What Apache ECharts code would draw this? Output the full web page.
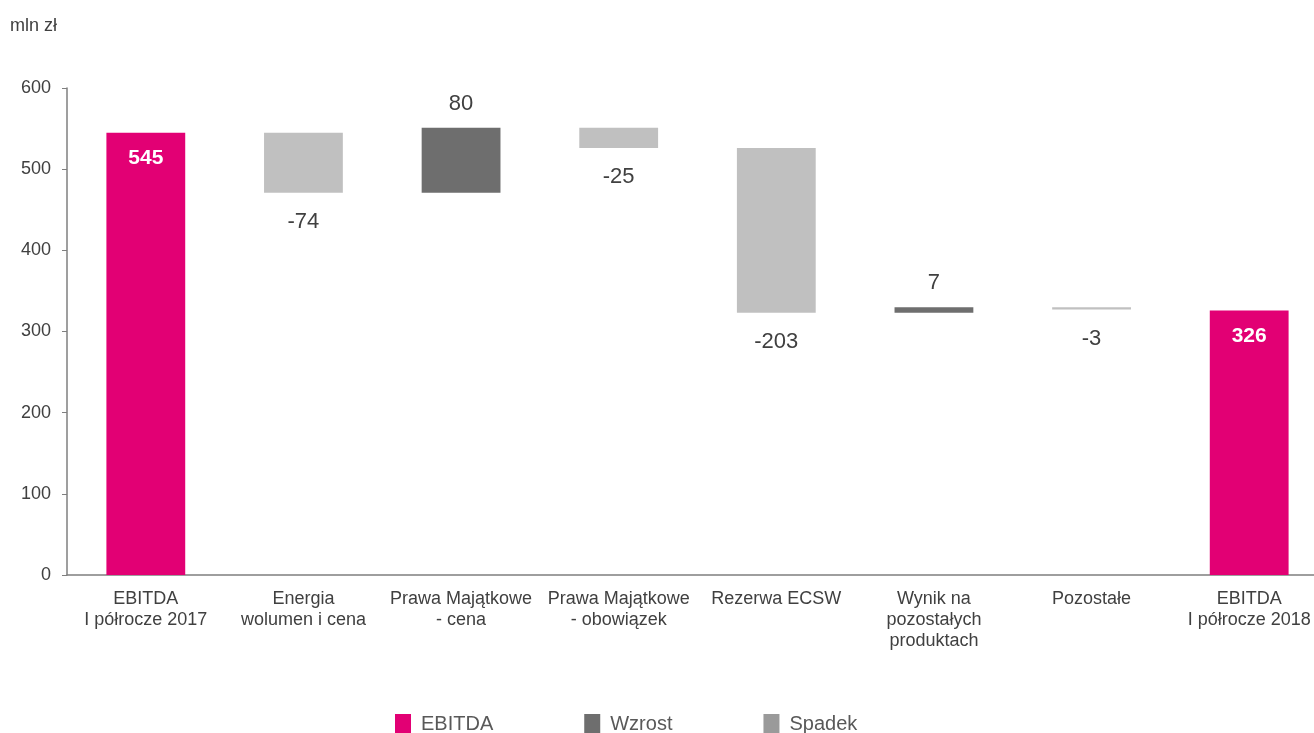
<!DOCTYPE html>
<html>
<head>
<meta charset="utf-8">
<script src="https://cdn.jsdelivr.net/npm/echarts@6/dist/echarts.min.js"></script>
<style>
  html, body { margin: 0; padding: 0; background: #fff; }
  #chart { width: 1314px; height: 733px; }
</style>
</head>
<body>
<div id="chart"></div>
<script>
// EBITDA bridge, H1 2017 -> H1 2018 (mln zł)
const categories = [
  'EBITDA\nI półrocze 2017',
  'Energia\nwolumen i cena',
  'Prawa Majątkowe\n- cena',
  'Prawa Majątkowe\n- obowiązek',
  'Rezerwa ECSW',
  'Wynik na\npozostałych\nproduktach',
  'Pozostałe',
  'EBITDA\nI półrocze 2018'
];
const startValue = 545;
const changes = [-74, 80, -25, -203, 7, -3];
const endValue = 326;
const yTicks = [0, 100, 200, 300, 400, 500, 600];

// Build waterfall stacks: invisible base + visible segment
const base = [0];
const ebitda = [startValue];
const rise = ['-'];
const fall = ['-'];
let level = startValue;
changes.forEach(d => {
  const next = level + d;
  base.push(Math.min(level, next));
  ebitda.push('-');
  if (d >= 0) { rise.push(d); fall.push('-'); }
  else { fall.push(-d); rise.push('-'); }
  level = next;
});
base.push(0);
ebitda.push(endValue);
rise.push('-');
fall.push('-');

const font = 'Arial, "Liberation Sans", sans-serif';
const chart = echarts.init(document.getElementById('chart'), null, { renderer: 'canvas' });

chart.setOption({
  animation: false,
  textStyle: { fontFamily: font },
  graphic: [{
    type: 'text', left: 10, top: 17,
    style: { text: 'mln zł', font: '18px ' + font, fill: '#404040' }
  }],
  legend: {
    left: 390, top: 709,
    itemWidth: 16, itemHeight: 20, itemGap: 91,
    textStyle: { fontSize: 20, color: '#595959', fontFamily: font, padding: [0, 0, 0, 5] },
    data: [
      { name: 'EBITDA', icon: 'rect', itemStyle: { color: '#E20074' } },
      { name: 'Wzrost', icon: 'rect', itemStyle: { color: '#6E6E6E' } },
      { name: 'Spadek', icon: 'rect', itemStyle: { color: '#9A9A9A' } }
    ],
    selectedMode: false
  },
  grid: { left: 67, top: 88, width: 1261, height: 487, containLabel: false, outerBoundsMode: 'none' },
  xAxis: {
    type: 'category',
    data: categories,
    axisLine: { lineStyle: { color: '#7f7f7f', width: 1.5 } },
    axisTick: { show: false },
    axisLabel: { color: '#404040', fontSize: 18, lineHeight: 21, margin: 14, interval: 0, fontFamily: font }
  },
  yAxis: {
    type: 'value',
    min: yTicks[0], max: yTicks[yTicks.length - 1], interval: 100,
    splitLine: { show: false },
    axisLine: { show: true, lineStyle: { color: '#7f7f7f', width: 1.5 } },
    axisTick: { show: true, length: 5, lineStyle: { color: '#7f7f7f' } },
    axisLabel: { color: '#404040', fontSize: 18, margin: 16, fontFamily: font }
  },
  series: [
    {
      name: 'base', type: 'bar', stack: 'w', data: base, barWidth: '50%',
      itemStyle: { color: 'transparent' }, silent: true
    },
    {
      name: 'EBITDA', type: 'bar', stack: 'w', data: ebitda,
      itemStyle: { color: '#E20074' },
      label: {
        show: true, position: 'insideTop', distance: 15,
        color: '#fff', fontSize: 21, fontWeight: 'bold', fontFamily: font
      }
    },
    {
      name: 'Wzrost', type: 'bar', stack: 'w', data: rise,
      itemStyle: { color: '#6E6E6E' },
      label: {
        show: true, position: 'top', distance: 13,
        color: '#404040', fontSize: 22, fontFamily: font
      }
    },
    {
      name: 'Spadek', type: 'bar', stack: 'w', data: fall,
      itemStyle: { color: '#C0C0C0' },
      label: {
        show: true, position: 'bottom', distance: 18,
        color: '#404040', fontSize: 22, fontFamily: font,
        formatter: p => '-' + p.value
      }
    }
  ]
});
</script>
</body>
</html>
